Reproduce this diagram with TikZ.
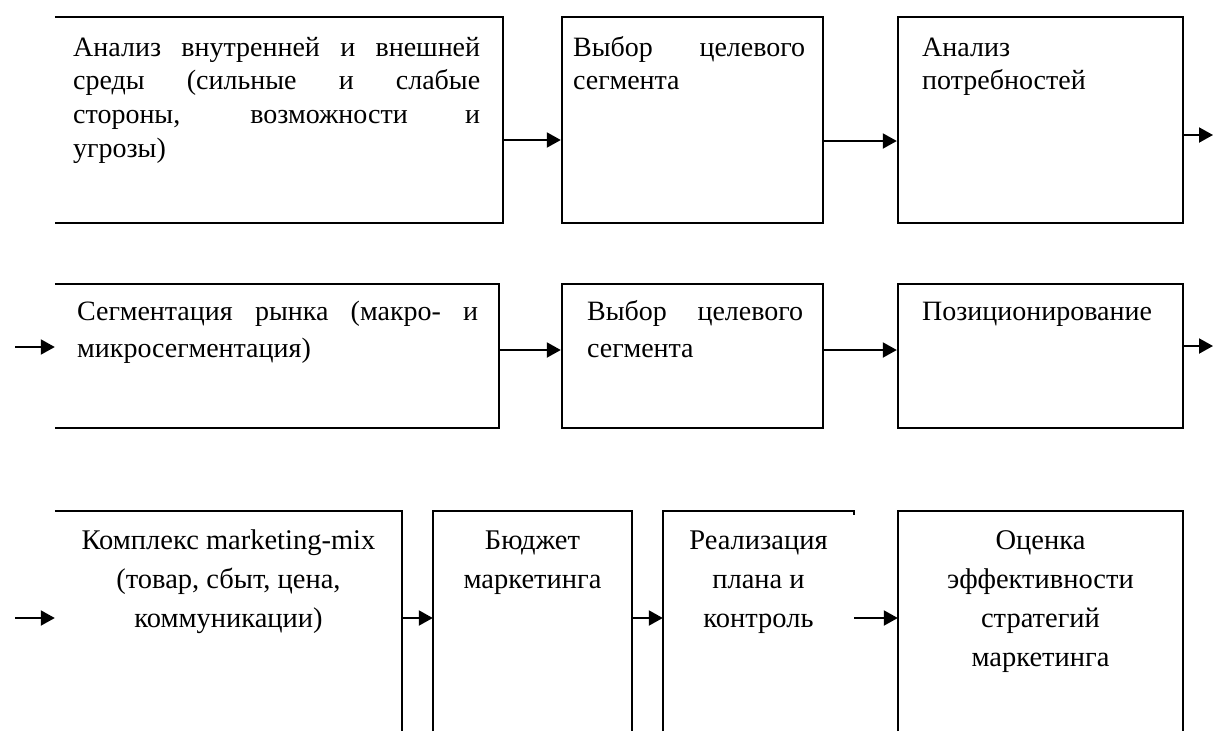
\documentclass[tikz,border=0pt]{standalone}
\usepackage{fontspec}
\setmainfont{Liberation Serif}
\usetikzlibrary{arrows.meta}
\newcommand\jst[2]{\makebox[#1][s]{\strut#2}}
\newcommand\nst[1]{\strut#1}
\tikzset{
  frame/.style={draw=none, rectangle, inner sep=0pt},
  fullbox/.style={frame, draw=black, line width=2.4pt},
  border/.style={line width=2.4pt, line join=miter},
  arr/.style={line width=2pt, -{Triangle[length=14pt,width=15pt]}},
  txtA/.style={inner sep=0pt, anchor=north west, align=left, font=\fontsize{28}{33.7}\selectfont},
  txtB/.style={inner sep=0pt, anchor=north west, align=left, font=\fontsize{28}{37}\selectfont},
  txtC/.style={inner sep=0pt, anchor=north, align=center, font=\fontsize{28.5}{39}\selectfont},
}
\begin{document}
\begin{tikzpicture}[x=1pt,y=-1pt]
\useasboundingbox (0,0) rectangle (1214,731);
\fill[white] (0,0) rectangle (1214,731);
% ---------- row 1 ----------
\node[frame, minimum width=448pt, minimum height=206pt] (A1) at (279,120) {};
\node[fullbox, minimum width=261pt, minimum height=206pt] (A2) at (692.5,120) {};
\node[fullbox, minimum width=285pt, minimum height=206pt] (A3) at (1040.5,120) {};
\draw[border] (A1.north west) -- (A1.north east) -- (A1.south east) -- (A1.south west);
\node[txtA] (tA1) at (73,32.4) {\jst{407pt}{Анализ внутренней и внешней}\\\jst{407pt}{среды (сильные и слабые}\\\jst{407pt}{стороны, возможности и}\\\nst{угрозы)}};
\node[txtA] (tA2) at (573,32.4) {\jst{232pt}{Выбор целевого}\\\nst{сегмента}};
\node[txtA] (tA3) at (922,32.4) {\nst{Анализ}\\\nst{потребностей}};
\coordinate (outA) at (1213,135);
\draw[arr] (A1.east |- 0,140) -- (A2.west |- 0,140);
\draw[arr] (A2.east |- 0,141) -- (A3.west |- 0,141);
\draw[arr] (A3.east |- outA) -- (outA);
% ---------- row 2 ----------
\node[frame, minimum width=444pt, minimum height=144pt] (B1) at (277,356) {};
\node[fullbox, minimum width=261pt, minimum height=144pt] (B2) at (692.5,356) {};
\node[fullbox, minimum width=285pt, minimum height=144pt] (B3) at (1040.5,356) {};
\draw[border] (B1.north west) -- (B1.north east) -- (B1.south east) -- (B1.south west);
\node[txtB] (tB1) at (77,294.1) {\jst{401pt}{Сегментация рынка (макро- и}\\\nst{микросегментация)}};
\node[txtB] (tB2) at (587,294.1) {\jst{216pt}{Выбор целевого}\\\nst{сегмента}};
\node[txtB] (tB3) at (922,294.1) {\nst{Позиционирование}};
\coordinate (inB) at (15,347);
\coordinate (outB) at (1213,346);
\draw[arr] (inB) -- (B1.west |- inB);
\draw[arr] (B1.east |- 0,350) -- (B2.west |- 0,350);
\draw[arr] (B2.east |- 0,350) -- (B3.west |- 0,350);
\draw[arr] (B3.east |- outB) -- (outB);
% ---------- row 3 ----------
\node[frame, minimum width=347pt, minimum height=220pt] (C1) at (228.5,621) {};
\node[frame, minimum width=199pt, minimum height=220pt] (C2) at (532.5,621) {};
\node[frame, minimum width=191pt, minimum height=220pt] (C3) at (758.5,621) {};
\node[frame, minimum width=285pt, minimum height=220pt] (C4) at (1040.5,621) {};
\draw[border] (C1.north west) -- (C1.north east) -- (C1.south east);
\draw[border] (C2.south west) -- (C2.north west) -- (C2.north east) -- (C2.south east);
\draw[border] (C3.south west) -- (C3.north west) -- (C3.north east) -- ++(0,4);
\draw[border] (C4.south west) -- (C4.north west) -- (C4.north east) -- (C4.south east);
\node[txtC] (tC1) at (228.5,521.7) {\nst{Комплекс marketing-mix}\\\nst{(товар, сбыт, цена,}\\\nst{коммуникации)}};
\node[txtC] (tC2) at (532.5,521.7) {\nst{Бюджет}\\\nst{маркетинга}};
\node[txtC] (tC3) at (758.5,521.7) {\nst{Реализация}\\\nst{плана и}\\\nst{контроль}};
\node[txtC] (tC4) at (1040.5,521.7) {\nst{Оценка}\\\nst{эффективности}\\\nst{стратегий}\\\nst{маркетинга}};
\coordinate (inC) at (15,618);
\draw[arr] (inC) -- (C1.west |- inC);
\draw[arr] (C1.east |- 0,618) -- (C2.west |- 0,618);
\draw[arr] (C2.east |- 0,618) -- (C3.west |- 0,618);
\draw[arr] (C3.east |- 0,618) -- (C4.west |- 0,618);
\end{tikzpicture}
\end{document}
